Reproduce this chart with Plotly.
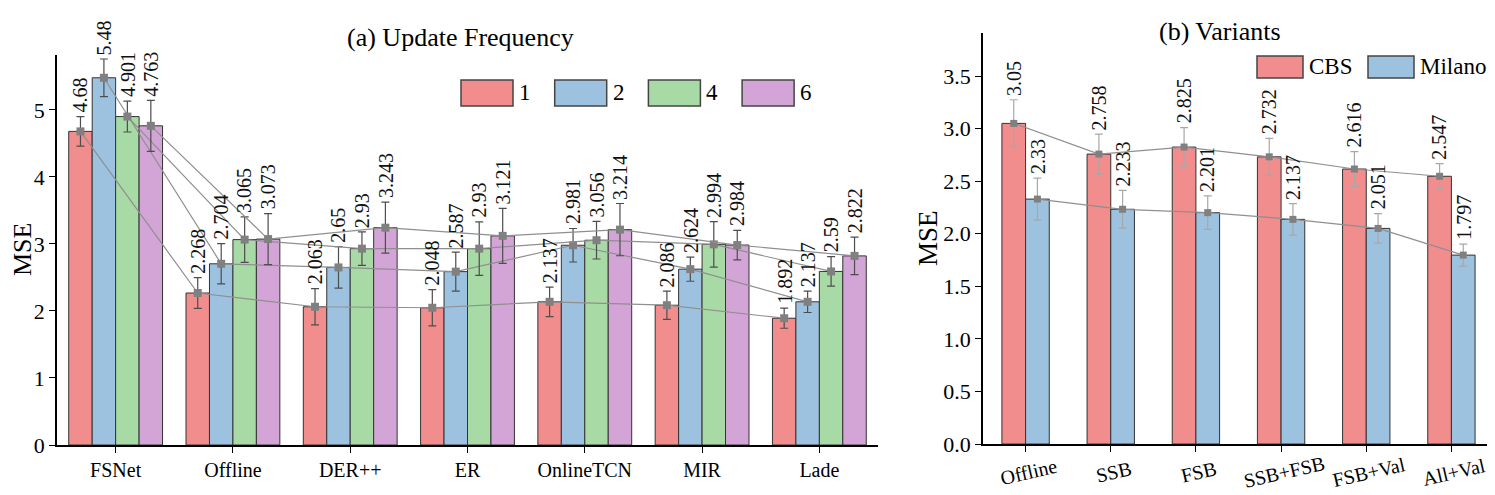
import plotly.graph_objects as go

# the page body adds an 8px margin, so the figure is sized to fill the rest
PAD = 8
W, H = 1495 - PAD, 495 - PAD

# (a) Update Frequency
methods = ["FSNet", "Offline", "DER++", "ER", "OnlineTCN", "MIR", "Lade"]
freq_names = ["1", "2", "4", "6"]
freq_1 = [4.68, 2.268, 2.063, 2.048, 2.137, 2.086, 1.892]
freq_2 = [5.48, 2.704, 2.65, 2.587, 2.981, 2.624, 2.137]
freq_4 = [4.901, 3.065, 2.93, 2.93, 3.056, 2.994, 2.59]
freq_6 = [4.763, 3.073, 3.243, 3.121, 3.214, 2.984, 2.822]
err_1 = [0.22, 0.23, 0.27, 0.27, 0.22, 0.21, 0.15]
err_2 = [0.28, 0.30, 0.31, 0.29, 0.25, 0.18, 0.16]
err_4 = [0.23, 0.34, 0.25, 0.40, 0.28, 0.34, 0.22]
err_6 = [0.38, 0.38, 0.38, 0.41, 0.39, 0.22, 0.28]

# (b) Variants
variants = ["Offline", "SSB", "FSB", "SSB+FSB", "FSB+Val", "All+Val"]
data_names = ["CBS", "Milano"]
cbs = [3.05, 2.758, 2.825, 2.732, 2.616, 2.547]
milano = [2.33, 2.233, 2.201, 2.137, 2.051, 1.797]
err_cbs = [0.225, 0.19, 0.185, 0.175, 0.165, 0.12]
err_milano = [0.20, 0.18, 0.16, 0.15, 0.14, 0.105]

RED = "#F28D8D"
BLUE = "#9DC2E0"
GREEN = "#A8DAA6"
PURPLE = "#D3A5D6"
EDGE = "#333333"
FONT = "Liberation Serif"


def px_x(p):
    return (p - PAD) / W


def px_y(p):
    return 1 - (p - PAD) / H


fig = go.Figure()


def add_group(series, errs, names, colors, cats, bw, xa, ya, err_col, msize, lbl_size):
    n = len(series)
    idx = list(range(len(cats)))
    for i, (vals, nm, col) in enumerate(zip(series, names, colors)):
        off = -n * bw / 2 + i * bw
        fig.add_trace(go.Bar(
            x=idx, y=vals, name=nm, width=bw, offset=off,
            marker=dict(color=col, line=dict(color=EDGE, width=1)),
            xaxis=xa, yaxis=ya, showlegend=False,
        ))
    for i, (vals, es, nm) in enumerate(zip(series, errs, names)):
        off = -n * bw / 2 + i * bw
        xs = [k + off + bw / 2 for k in idx]
        fig.add_trace(go.Scatter(
            x=xs, y=vals, mode="lines+markers",
            line=dict(color="#8f8f8f", width=1.2),
            marker=dict(symbol="square", size=msize, color="#808080"),
            error_y=dict(type="data", array=es, color=err_col, thickness=1.2, width=4),
            xaxis=xa, yaxis=ya, showlegend=False,
        ))
        for xv, v, e in zip(xs, vals, es):
            fig.add_annotation(
                x=xv, y=v + e, xref=xa, yref=ya, text=f"{v:g}",
                textangle=-90, showarrow=False, yanchor="bottom", yshift=2,
                font=dict(family=FONT, size=lbl_size, color="#111"),
            )


add_group([freq_1, freq_2, freq_4, freq_6], [err_1, err_2, err_4, err_6],
          freq_names, [RED, BLUE, GREEN, PURPLE], methods, 0.2, "x", "y",
          "#4d4d4d", 8, 20)
add_group([cbs, milano], [err_cbs, err_milano], data_names, [RED, BLUE],
          variants, 0.278, "x2", "y2", "#a8a8a8", 7, 20)

axis_common = dict(
    showline=True, linecolor="black", linewidth=1.5, showgrid=False,
    zeroline=False, ticks="outside", ticklen=6, tickcolor="black",
    automargin=False,
    tickfont=dict(family=FONT, size=22, color="black"),
)

fig.update_layout(
    width=W, height=H,
    paper_bgcolor="white", plot_bgcolor="white",
    margin=dict(l=0, r=0, t=0, b=0),
    font=dict(family=FONT, color="black"),
    barmode="overlay",
    xaxis=dict(axis_common, domain=[px_x(57), px_x(878)], range=[-0.5, 6.5],
               tickvals=list(range(len(methods))), ticktext=methods,
               tickfont=dict(family=FONT, size=20, color="black"), anchor="y"),
    yaxis=dict(axis_common, domain=[px_y(445), px_y(55)], range=[0, 5.82],
               dtick=1, anchor="x"),
    xaxis2=dict(axis_common, domain=[px_x(983), px_x(1494)], range=[-0.5, 5.5],
                tickvals=list(range(len(variants))), showticklabels=False,
                anchor="y2"),
    yaxis2=dict(axis_common, domain=[px_y(444), px_y(33)], range=[0, 3.91],
                dtick=0.5, tickformat=".1f", anchor="x2"),
)

# slanted, centred category labels for (b)
for k, name in enumerate(variants):
    fig.add_annotation(x=k, y=px_y(472), xref="x2", yref="paper", text=name,
                       textangle=-13, showarrow=False, xanchor="center",
                       yanchor="middle", xshift=3,
                       font=dict(family=FONT, size=20, color="black"))

# titles
fig.add_annotation(x=px_x(460), y=px_y(37), xref="paper", yref="paper",
                   text="(a) Update Frequency", showarrow=False,
                   xanchor="center", yanchor="middle",
                   font=dict(family=FONT, size=26))
fig.add_annotation(x=px_x(1220), y=px_y(32), xref="paper", yref="paper",
                   text="(b) Variants", showarrow=False,
                   xanchor="center", yanchor="middle",
                   font=dict(family=FONT, size=26))
# y-axis titles
fig.add_annotation(x=px_x(23), y=px_y(250), xref="paper", yref="paper",
                   text="MSE", textangle=-90, showarrow=False,
                   xanchor="center", yanchor="middle",
                   font=dict(family=FONT, size=26))
fig.add_annotation(x=px_x(928), y=px_y(238), xref="paper", yref="paper",
                   text="MSE", textangle=-90, showarrow=False,
                   xanchor="center", yanchor="middle",
                   font=dict(family=FONT, size=27))


# legends drawn as wide boxes
def legend(names, colors, x0, y0, y1, bw, step, size):
    for k, (nm, col) in enumerate(zip(names, colors)):
        xa = x0 + k * step
        fig.add_shape(type="rect", xref="paper", yref="paper",
                      x0=px_x(xa), x1=px_x(xa + bw), y0=px_y(y1), y1=px_y(y0),
                      fillcolor=col, line=dict(color="#444", width=1.5))
        fig.add_annotation(x=px_x(xa + bw + 4), y=px_y((y0 + y1) / 2),
                           xref="paper", yref="paper", text=nm, showarrow=False,
                           xanchor="left", yanchor="middle",
                           font=dict(family=FONT, size=size))


legend(freq_names, [RED, BLUE, GREEN, PURPLE], 461, 80, 106, 52, 93.7, 23)
legend(data_names, [RED, BLUE], 1257, 56, 78, 46, 111, 23)

fig.write_html("out.html")
